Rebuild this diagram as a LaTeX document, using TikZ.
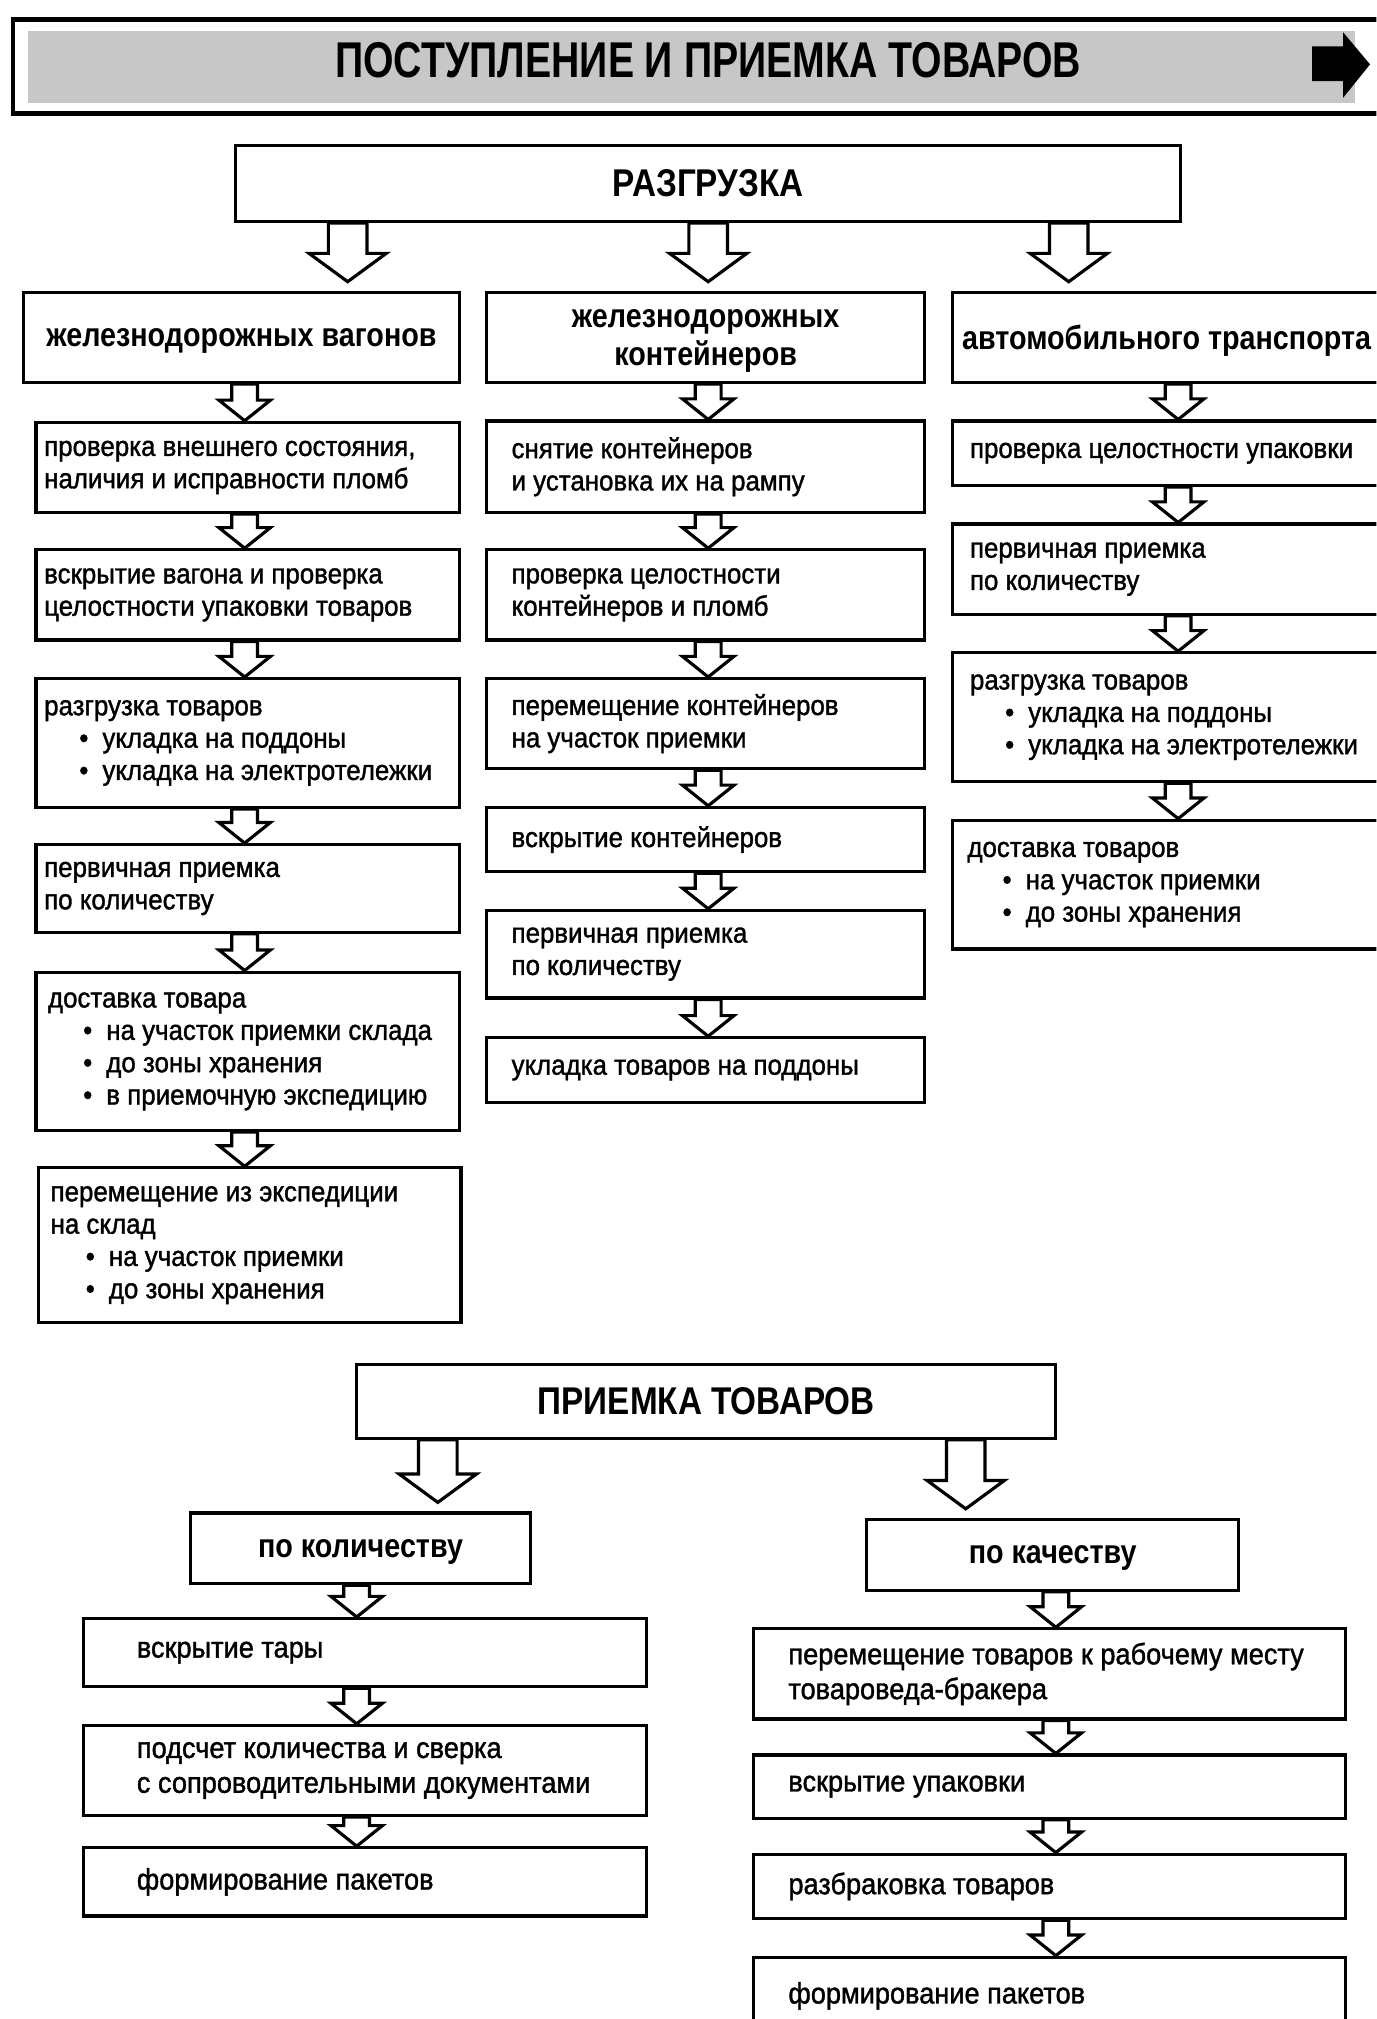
\documentclass[tikz,border=0pt]{standalone}
\usepackage{fontspec}
\setmainfont{Liberation Sans}[FakeStretch=0.92, FakeBold=1.3]
\newfontfamily\headfont{Liberation Sans}[FakeStretch=0.86]
\newfontfamily\titlefont{Liberation Sans}[FakeStretch=0.78]
\usetikzlibrary{calc,fit}

\tikzset{
  box/.style={draw, line width=0.9pt, inner sep=0pt},
  head/.style={inner sep=0pt, yshift=-1pt, font=\headfont\bfseries\fontsize{9.5}{11}\selectfont, align=center},
  bighead/.style={inner sep=0pt, font=\headfont\bfseries\fontsize{11}{13}\selectfont},
  txt/.style={anchor=west, align=left, inner sep=0pt, font=\fontsize{8}{9.2}\selectfont},
  ltxt/.style={txt, font=\fontsize{8.4}{9.9}\selectfont},
  hollow/.style={draw, line width=0.9pt, fill=white, line join=miter}
}

% box with left aligned text
\newcommand{\stepbox}[5][txt]{%
  \node[box, fit={#3}] (#2) {};
  \node[#1] (#2t) at ($(#2.west)+(#4,0)$) {#5};}
% box with centred text
\newcommand{\headbox}[4][head]{%
  \node[box, fit={#3}] (#2) {};
  \node[#1] (#2t) at (#2.center) {#4};}
\newcommand{\itm}{\hspace*{10pt}\textbullet\hspace{4pt}}
% hollow block arrows: x, from node, to node
\newcommand{\bigarr}[3]{%
  \path (#1,0 |- #2.south) coordinate (p) (#1,0 |- #3.north) coordinate (q);
  \draw[hollow] ($(p)+(-15,0)$) -- ($(p)+(15,0)$) -- ($(q)+(15,-29)$) -- ($(q)+(30,-29)$)
    -- ($(q)+(0,-7)$) -- ($(q)+(-30,-29)$) -- ($(q)+(-15,-29)$) -- cycle;}
\newcommand{\smallarr}[3]{%
  \path (#1,0 |- #2.south) coordinate (p) (#1,0 |- #3.north) coordinate (q);
  \draw[hollow] ($(p)+(-10,0)$) -- ($(p)+(10,0)$) -- ($(q)+(10,-16)$) -- ($(q)+(20,-16)$)
    -- (q) -- ($(q)+(-20,-16)$) -- ($(q)+(-10,-16)$) -- cycle;}

\begin{document}
\begin{tikzpicture}[x=0.12872mm, y=-0.12872mm]
  \useasboundingbox (0,0) rectangle (1069,1568);
  \clip (0,0) rectangle (1069,1568);

  % title bar
  \node[box, line width=1.3pt, fit={(10,15) (1085,88)}] (title) {};
  \node[fill=black!22, inner sep=0pt, fit={(22,24) (1052,80)}] (band) {};
  \node[font=\titlefont\bfseries\fontsize{14.3}{16}\selectfont] (titletxt) at (550,47) {ПОСТУПЛЕНИЕ И ПРИЕМКА ТОВАРОВ};
  \fill (1019,36) -- (1043,36) -- (1043,25) -- (1064,50) -- (1043,76) -- (1043,63) -- (1019,63) -- cycle;

  % unloading
  \headbox[bighead]{unload}{(183,113) (917,172)}{РАЗГРУЗКА}
  \headbox{wagons}{(18,227) (357,297)}{железнодорожных вагонов}
  \headbox{conts}{(378,227) (718,297)}{железнодорожных\\контейнеров}
  \headbox{trucks}{(740,227) (1072,297)}{автомобильного транспорта}
  \bigarr{270}{unload}{wagons}
  \bigarr{550}{unload}{conts}
  \bigarr{830}{unload}{trucks}

  % wagons
  \stepbox{w1}{(28,328) (357,398)}{7}{проверка внешнего состояния,\\наличия и исправности пломб}
  \stepbox{w2}{(28,427) (357,497)}{7}{вскрытие вагона и проверка\\целостности упаковки товаров}
  \stepbox{w3}{(28,527) (357,627)}{7}{разгрузка товаров\\\itm укладка на поддоны\\\itm укладка на электротележки}
  \stepbox{w4}{(28,656) (357,724)}{7}{первичная приемка\\по количеству}
  \stepbox{w5}{(28,755) (357,878)}{10}{доставка товара\\\itm на участок приемки склада\\\itm до зоны хранения\\\itm в приемочную экспедицию}
  \stepbox{w6}{(30,907) (358,1027)}{10}{перемещение из экспедиции\\на склад\\\itm на участок приемки\\\itm до зоны хранения}
  \smallarr{190}{wagons}{w1}
  \smallarr{190}{w1}{w2}
  \smallarr{190}{w2}{w3}
  \smallarr{190}{w3}{w4}
  \smallarr{190}{w4}{w5}
  \smallarr{190}{w5}{w6}

  % containers
  \stepbox{c1}{(378,327) (718,398)}{20}{снятие контейнеров\\и установка их на рампу}
  \stepbox{c2}{(378,427) (718,497)}{20}{проверка целостности\\контейнеров и пломб}
  \stepbox{c3}{(378,527) (718,597)}{20}{перемещение контейнеров\\на участок приемки}
  \stepbox{c4}{(378,627) (718,677)}{20}{вскрытие контейнеров}
  \stepbox{c5}{(378,707) (718,775)}{20}{первичная приемка\\по количеству}
  \stepbox{c6}{(378,806) (718,856)}{20}{укладка товаров на поддоны}
  \smallarr{550}{conts}{c1}
  \smallarr{550}{c1}{c2}
  \smallarr{550}{c2}{c3}
  \smallarr{550}{c3}{c4}
  \smallarr{550}{c4}{c5}
  \smallarr{550}{c5}{c6}

  % trucks
  \stepbox{t1}{(740,327) (1072,377)}{14}{проверка целостности упаковки}
  \stepbox{t2}{(740,407) (1072,477)}{14}{первичная приемка\\по количеству}
  \stepbox{t3}{(740,507) (1072,607)}{14}{разгрузка товаров\\\itm укладка на поддоны\\\itm укладка на электротележки}
  \stepbox{t4}{(740,637) (1072,737)}{12}{доставка товаров\\\itm на участок приемки\\\itm до зоны хранения}
  \smallarr{915}{trucks}{t1}
  \smallarr{915}{t1}{t2}
  \smallarr{915}{t2}{t3}
  \smallarr{915}{t3}{t4}

  % acceptance
  \headbox[bighead]{accept}{(277,1060) (820,1117)}{ПРИЕМКА ТОВАРОВ}
  \headbox{qty}{(148,1175) (412,1230)}{по количеству}
  \headbox{qual}{(673,1180) (962,1235)}{по качеству}
  \bigarr{340}{accept}{qty}
  \bigarr{750}{accept}{qual}

  \stepbox[ltxt]{q1}{(65,1257) (502,1310)}{42}{вскрытие тары}
  \stepbox[ltxt]{q2}{(65,1340) (502,1410)}{42}{подсчет количества и сверка\\с сопроводительными документами}
  \stepbox[ltxt]{q3}{(65,1435) (502,1488)}{42}{формирование пакетов}
  \smallarr{277}{qty}{q1}
  \smallarr{277}{q1}{q2}
  \smallarr{277}{q2}{q3}

  \stepbox[ltxt]{k1}{(585,1265) (1045,1335)}{28}{перемещение товаров к рабочему месту\\товароведа-бракера}
  \stepbox[ltxt]{k2}{(585,1363) (1045,1412)}{28}{вскрытие упаковки}
  \stepbox[ltxt]{k3}{(585,1440) (1045,1490)}{28}{разбраковка товаров}
  \stepbox[ltxt]{k4}{(585,1520) (1045,1580)}{28}{формирование пакетов}
  \smallarr{820}{qual}{k1}
  \smallarr{820}{k1}{k2}
  \smallarr{820}{k2}{k3}
  \smallarr{820}{k3}{k4}
\end{tikzpicture}
\end{document}
